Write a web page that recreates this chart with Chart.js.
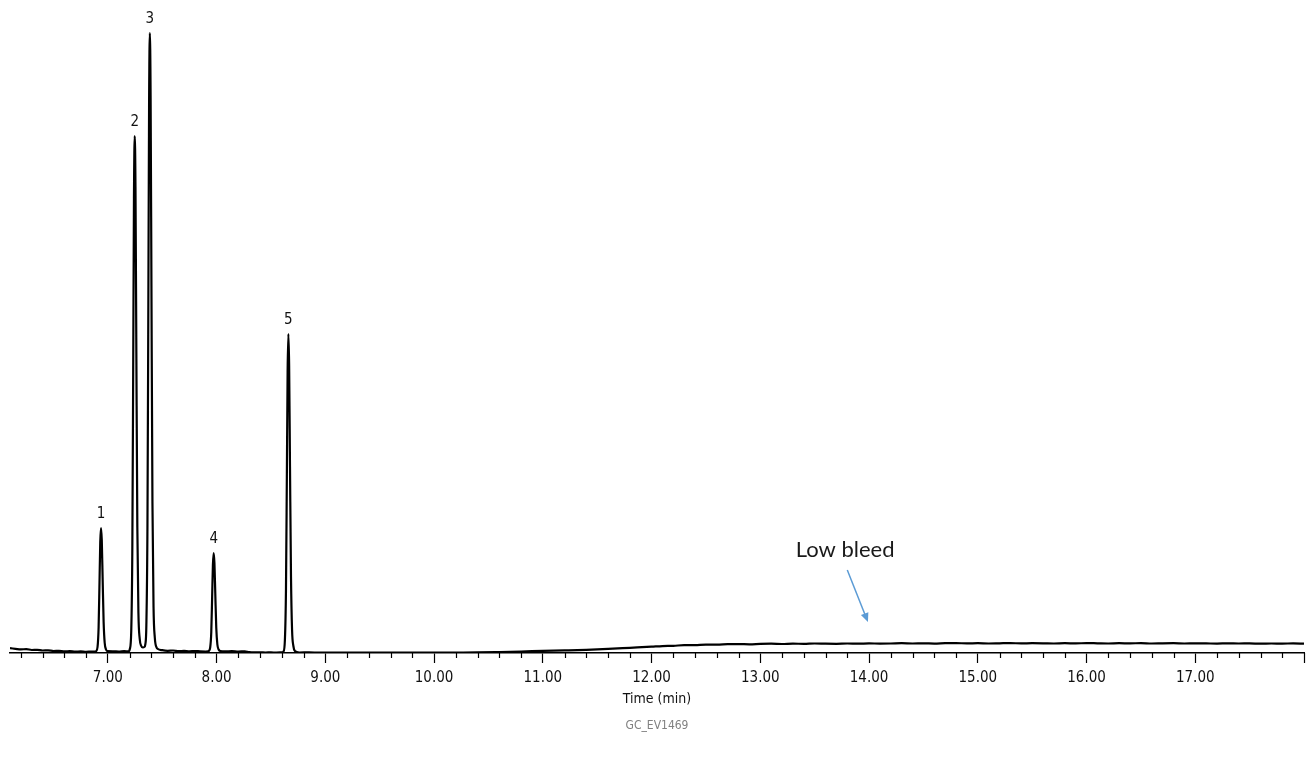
<!DOCTYPE html>
<html>
<head>
<meta charset="utf-8">
<title>GC_EV1469</title>
<script src="https://cdn.jsdelivr.net/npm/chart.js@4/dist/chart.umd.min.js"></script>
<style>
  html, body { margin: 0; padding: 0; background: #fff; }
  #wrap { width: 1307px; height: 761px; position: relative; }
</style>
</head>
<body>
<div id="wrap"><canvas id="gc"></canvas></div>
<script>
// ── Data (time in min, signal in arbitrary units) ──
const TIMES = [
  6.10, 6.15, 6.20, 6.25, 6.30, 6.35, 6.40, 6.45, 6.50, 6.55, 6.60, 6.65, 6.70, 6.75, 6.80, 6.85, 6.88,
  // peak 1
  6.892, 6.905, 6.915, 6.923, 6.930, 6.937, 6.944, 6.952, 6.961, 6.971, 6.983, 6.997,
  7.05, 7.10, 7.15, 7.19,
  // peak 2
  7.202, 7.215, 7.225, 7.233, 7.240, 7.247, 7.254, 7.262, 7.271, 7.281, 7.293, 7.307, 7.322, 7.335,
  // peak 3
  7.345, 7.354, 7.364, 7.372, 7.379, 7.386, 7.393, 7.401, 7.410, 7.420, 7.432, 7.446,
  7.46, 7.50, 7.55, 7.60, 7.65, 7.70, 7.75, 7.80, 7.85, 7.90, 7.92,
  // peak 4
  7.928, 7.941, 7.951, 7.959, 7.966, 7.973, 7.980, 7.988, 7.997, 8.007, 8.019, 8.033,
  8.08, 8.14, 8.20, 8.26, 8.30, 8.35, 8.40, 8.45, 8.50, 8.55, 8.60,
  // peak 5
  8.615, 8.628, 8.638, 8.646, 8.653, 8.660, 8.667, 8.675, 8.684, 8.694, 8.706, 8.720,
  8.76, 8.85, 8.95, 9.05, 9.2, 9.4, 9.6, 9.8, 10.0, 10.2, 10.4, 10.6, 10.8,
  11.0, 11.2, 11.4, 11.6, 11.8,
  12.0, 12.1, 12.2, 12.3, 12.4, 12.5, 12.6, 12.7, 12.8, 12.9,
  13.0, 13.1, 13.2, 13.3, 13.4, 13.5, 13.6, 13.7, 13.8, 13.9,
  14.0, 14.1, 14.2, 14.3, 14.4, 14.5, 14.6, 14.7, 14.8, 14.9,
  15.0, 15.1, 15.2, 15.3, 15.4, 15.5, 15.6, 15.7, 15.8, 15.9,
  16.0, 16.1, 16.2, 16.3, 16.4, 16.5, 16.6, 16.7, 16.8, 16.9,
  17.0, 17.1, 17.2, 17.3, 17.4, 17.5, 17.6, 17.7, 17.8, 17.9, 18.0
];
const SIGNAL = [
  4.8, 4.2, 3.6, 3.9, 3.0, 3.2, 2.5, 2.7, 2.0, 2.2, 1.6, 1.8, 1.3, 1.6, 1.2, 1.4, 1.3,
  1.8, 6, 26, 70, 111, 125, 113, 74, 31, 10, 3.5, 1.8,
  1.7, 1.4, 1.8, 1.6,
  4, 22, 105, 285, 455, 517, 466, 300, 126, 40, 14, 7, 5.5, 6,
  9, 28, 126, 342, 546, 620, 558, 360, 150, 46, 15, 6,
  4, 2.8, 2.2, 2.5, 1.9, 2.1, 1.7, 2.0, 1.6, 1.5, 1.6,
  2, 5.5, 21, 56, 88, 100, 90, 59, 25, 8.5, 3.5, 2,
  1.6, 1.9, 1.5, 1.7, 0.8, 0.6, 0.7, 0.5, 0.6, 0.4, 0.6,
  1.5, 13, 64, 176, 281, 319, 288, 186, 77, 23, 7, 2,
  0.5, 0.6, 0.3, 0.5, 0.4, 0.3, 0.5, 0.3, 0.4, 0.5, 0.6, 1.0, 1.5,
  2.1, 2.6, 3.2, 4.1, 5.2,
  6.3, 6.9, 7.2, 7.8, 7.9, 8.4, 8.3, 8.8, 8.9, 8.7,
  9.1, 9.3, 9.0, 9.4, 9.1, 9.5, 9.3, 9.2, 9.5, 9.3,
  9.6, 9.4, 9.5, 9.8, 9.5, 9.7, 9.4, 9.8, 9.9, 9.6,
  9.8, 9.5, 9.7, 9.9, 9.6, 9.8, 9.7, 9.5, 9.8, 9.6,
  9.9, 9.7, 9.5, 9.8, 9.6, 9.9, 9.5, 9.7, 9.8, 9.5,
  9.7, 9.6, 9.4, 9.7, 9.5, 9.6, 9.3, 9.5, 9.4, 9.6, 9.3
];

const PEAK_LABELS = ['1', '2', '3', '4', '5'];
const PEAK_TIMES  = [6.937, 7.247, 7.386, 7.973, 8.660];
const PEAK_TOPS   = [125, 517, 620, 100, 319];

const X_TICKS = [7, 8, 9, 10, 11, 12, 13, 14, 15, 16, 17];

const NOTE_TEXT  = 'Low bleed';
const NOTE_AT    = [13.78, 103];
const ARROW_FROM = [13.80, 83];
const ARROW_TO   = [13.99, 31];

const FOOTNOTE = 'GC_EV1469';

const NARROW = "'DejaVu Sans Condensed', 'Noto Sans', sans-serif";

// ── Annotations: peak numbers, arrow, footnote, minor ticks ───────────────────
const annotations = {
  id: 'annotations',
  afterDraw(chart) {
    const { ctx, chartArea, scales: { x, y } } = chart;
    ctx.save();

    // minor ticks every 0.2 min
    ctx.strokeStyle = '#000';
    ctx.lineWidth = 1.2;
    for (let i = 31; i <= 90; i++) {
      const v = i / 5;
      if (X_TICKS.includes(v)) continue;
      const px = Math.round(x.getPixelForValue(v)) + 0.5;
      const len = v === 18 ? 10 : 5;
      ctx.beginPath();
      ctx.moveTo(px, chartArea.bottom);
      ctx.lineTo(px, chartArea.bottom + len);
      ctx.stroke();
    }

    // peak numbers
    ctx.fillStyle = '#111';
    ctx.font = `15px ${NARROW}`;
    ctx.textAlign = 'center';
    ctx.textBaseline = 'middle';
    PEAK_LABELS.forEach((lbl, i) => {
      ctx.fillText(lbl, x.getPixelForValue(PEAK_TIMES[i]), y.getPixelForValue(PEAK_TOPS[i]) - 14);
    });

    // "Low bleed" note + arrow
    ctx.font = "22px Lato, 'Open Sans', sans-serif";
    ctx.fillStyle = '#1a1a1a';
    ctx.fillText(NOTE_TEXT, x.getPixelForValue(NOTE_AT[0]), y.getPixelForValue(NOTE_AT[1]));

    const x0 = x.getPixelForValue(ARROW_FROM[0]), y0 = y.getPixelForValue(ARROW_FROM[1]);
    const x1 = x.getPixelForValue(ARROW_TO[0]),   y1 = y.getPixelForValue(ARROW_TO[1]);
    const ang = Math.atan2(y1 - y0, x1 - x0);
    ctx.strokeStyle = '#5b9bd5';
    ctx.fillStyle = '#5b9bd5';
    ctx.lineWidth = 1.5;
    ctx.beginPath();
    ctx.moveTo(x0, y0);
    ctx.lineTo(x1 - 6 * Math.cos(ang), y1 - 6 * Math.sin(ang));
    ctx.stroke();
    ctx.beginPath();
    ctx.moveTo(x1, y1);
    ctx.lineTo(x1 - 9 * Math.cos(ang) + 4 * Math.sin(ang), y1 - 9 * Math.sin(ang) - 4 * Math.cos(ang));
    ctx.lineTo(x1 - 9 * Math.cos(ang) - 4 * Math.sin(ang), y1 - 9 * Math.sin(ang) + 4 * Math.cos(ang));
    ctx.closePath();
    ctx.fill();

    // footnote under the axis title
    ctx.font = `12px ${NARROW}`;
    ctx.fillStyle = '#808080';
    ctx.fillText(FOOTNOTE, (chartArea.left + chartArea.right) / 2, 726);

    ctx.restore();
  },
};

// ── Chart ─────────────────────────────────────────────────────────────────────
new Chart(document.getElementById('gc').getContext('2d'), {
  type: 'line',
  data: {
    datasets: [{
      label: 'Signal',
      data: TIMES.map((t, i) => ({ x: t, y: SIGNAL[i] })),
      borderColor: '#000',
      borderWidth: 2.2,
      pointRadius: 0,
      cubicInterpolationMode: 'monotone',
      fill: false,
    }],
  },
  options: {
    animation: false,
    responsive: true,
    maintainAspectRatio: false,
    layout: { padding: { top: 13, left: 10, right: 3, bottom: 0 } },
    plugins: { legend: { display: false }, tooltip: { enabled: false } },
    scales: {
      x: {
        type: 'linear',
        min: 6.1,
        max: 18.0,
        afterBuildTicks: scale => { scale.ticks = X_TICKS.map(v => ({ value: v })); },
        afterFit: scale => { scale.height = 108; },
        grid: { drawOnChartArea: false, drawTicks: true, tickLength: 10, tickColor: '#000', tickWidth: 1.2 },
        border: { display: true, color: '#000', width: 1.5 },
        ticks: {
          callback: v => v.toFixed(2),
          color: '#111',
          font: { family: NARROW, size: 15 },
          padding: 6,
          maxRotation: 0,
          autoSkip: false,
        },
        title: {
          display: true,
          text: 'Time (min)',
          color: '#111',
          font: { family: NARROW, size: 14 },
          padding: { top: 4, bottom: 53 },
        },
      },
      y: { display: false, min: 0, max: 640 },
    },
  },
  plugins: [annotations],
});
</script>
</body>
</html>
